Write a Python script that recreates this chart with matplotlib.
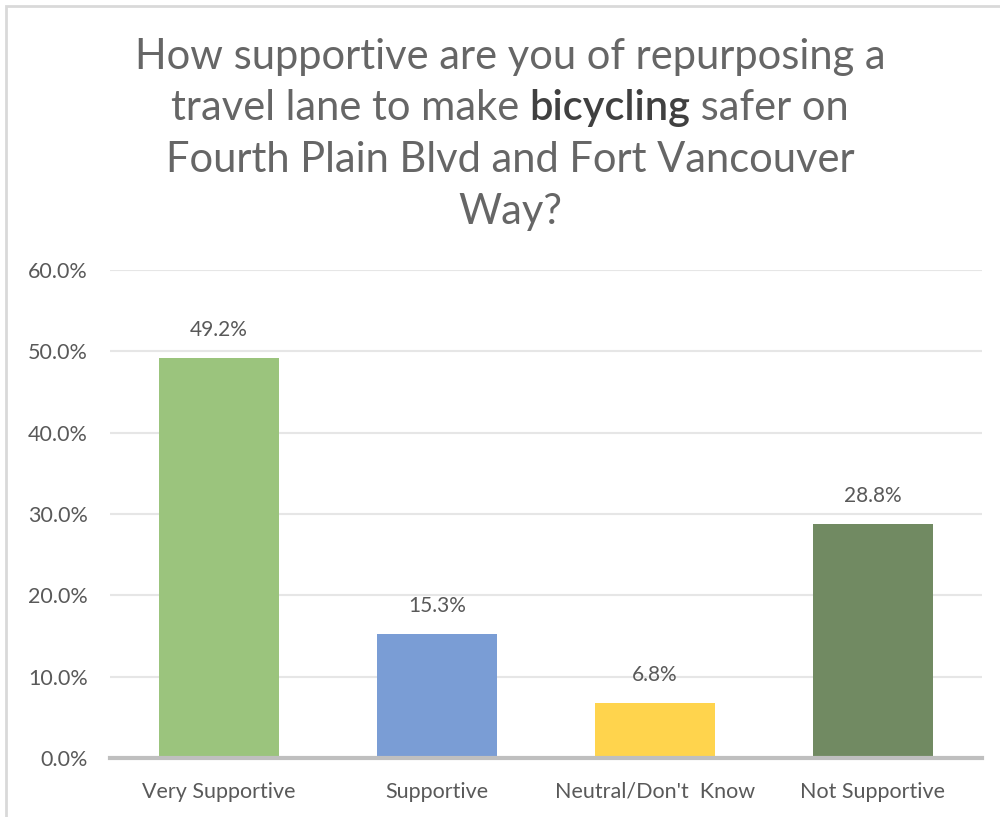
import matplotlib
matplotlib.use("Agg")
import matplotlib.pyplot as plt
from matplotlib.patches import Rectangle
from matplotlib.ticker import FuncFormatter, MultipleLocator

categories = ["Very Supportive", "Supportive", "Neutral/Don't  Know", "Not Supportive"]
values = [49.2, 15.3, 6.8, 28.8]
colors = ["#9BC47D", "#7A9DD5", "#FFD44D", "#718A62"]
title_lines = ["How supportive are you of repurposing a",
               ["travel lane to make ", "bicycling", " safer on"],
               "Fourth Plain Blvd and Fort Vancouver",
               "Way?"]

FONT = "Lato"
TXT = "#595959"
TTXT = "#666666"
TSIZE = 30

fig = plt.figure(figsize=(10, 8.17), dpi=100)
ax = fig.add_axes([0.11, (817 - 758) / 817, 0.872, (758 - 270) / 817])

x = range(len(categories))
bars = ax.bar(x, values, width=0.55, color=colors, zorder=3)
ax.set_xlim(-0.5, len(categories) - 0.5)
ax.set_ylim(0, 60)
ax.yaxis.set_major_locator(MultipleLocator(10))
ax.yaxis.set_major_formatter(FuncFormatter(lambda v, p: f"{v:.1f}%"))
ax.grid(axis="y", color="#E6E6E6", lw=1.5, zorder=0)
for s in ["top", "right", "left"]:
    ax.spines[s].set_visible(False)
ax.spines["bottom"].set_color("#BFBFBF")
ax.spines["bottom"].set_linewidth(3)
ax.spines["bottom"].set_zorder(4)
ax.tick_params(axis="both", length=0, labelcolor=TXT)
ax.tick_params(axis="y", pad=16, labelsize=15.5)
ax.tick_params(axis="x", pad=17, labelsize=15.5)
ax.set_xticks(list(x))
ax.set_xticklabels(categories, fontfamily=FONT)
for lab in ax.get_yticklabels():
    lab.set_fontfamily(FONT)

for b, v in zip(bars, values):
    ax.annotate(f"{v:.1f}%", (b.get_x() + b.get_width() / 2, v),
                xytext=(0, 13), textcoords="offset points", ha="center",
                va="bottom", fontsize=15, color=TXT, fontfamily=FONT)

# title
cx = 510 / 1000
ys = [57, 108, 160, 212]
fig.canvas.draw()
r = fig.canvas.get_renderer()
for line, yy in zip(title_lines, ys):
    yf = 1 - yy / 817
    if isinstance(line, str):
        fig.text(cx, yf, line, ha="center", va="center", fontsize=TSIZE,
                 color=TTXT, fontfamily=FONT, fontweight="normal")
    else:
        weights = ["normal", "semibold", "normal"]
        cols = [TTXT, "#404040", TTXT]
        texts = []
        widths = []
        for part, w, c in zip(line, weights, cols):
            t = fig.text(0, yf, part, ha="left", fontweight=w, fontsize=TSIZE,
                         color=c, fontfamily=FONT, va="center")
            texts.append(t)
            probe = fig.text(0, 0, "|" + part + "|", fontsize=TSIZE,
                             fontfamily=FONT, fontweight=w)
            pb = fig.text(0, 0, "||", fontsize=TSIZE, fontfamily=FONT,
                          fontweight=w)
            widths.append(probe.get_window_extent(r).width
                          - pb.get_window_extent(r).width)
            probe.remove(); pb.remove()
        xs = cx * 1000 - sum(widths) / 2
        for t, w in zip(texts, widths):
            t.set_x(xs / 1000)
            xs += w

# chart border
fig.patches.append(Rectangle((6 / 1000, -0.1), 1.2, (817 - 6) / 817 + 0.1,
                             transform=fig.transFigure, fill=False,
                             edgecolor="#D9D9D9", lw=2))

fig.savefig("out.png", dpi=100)
